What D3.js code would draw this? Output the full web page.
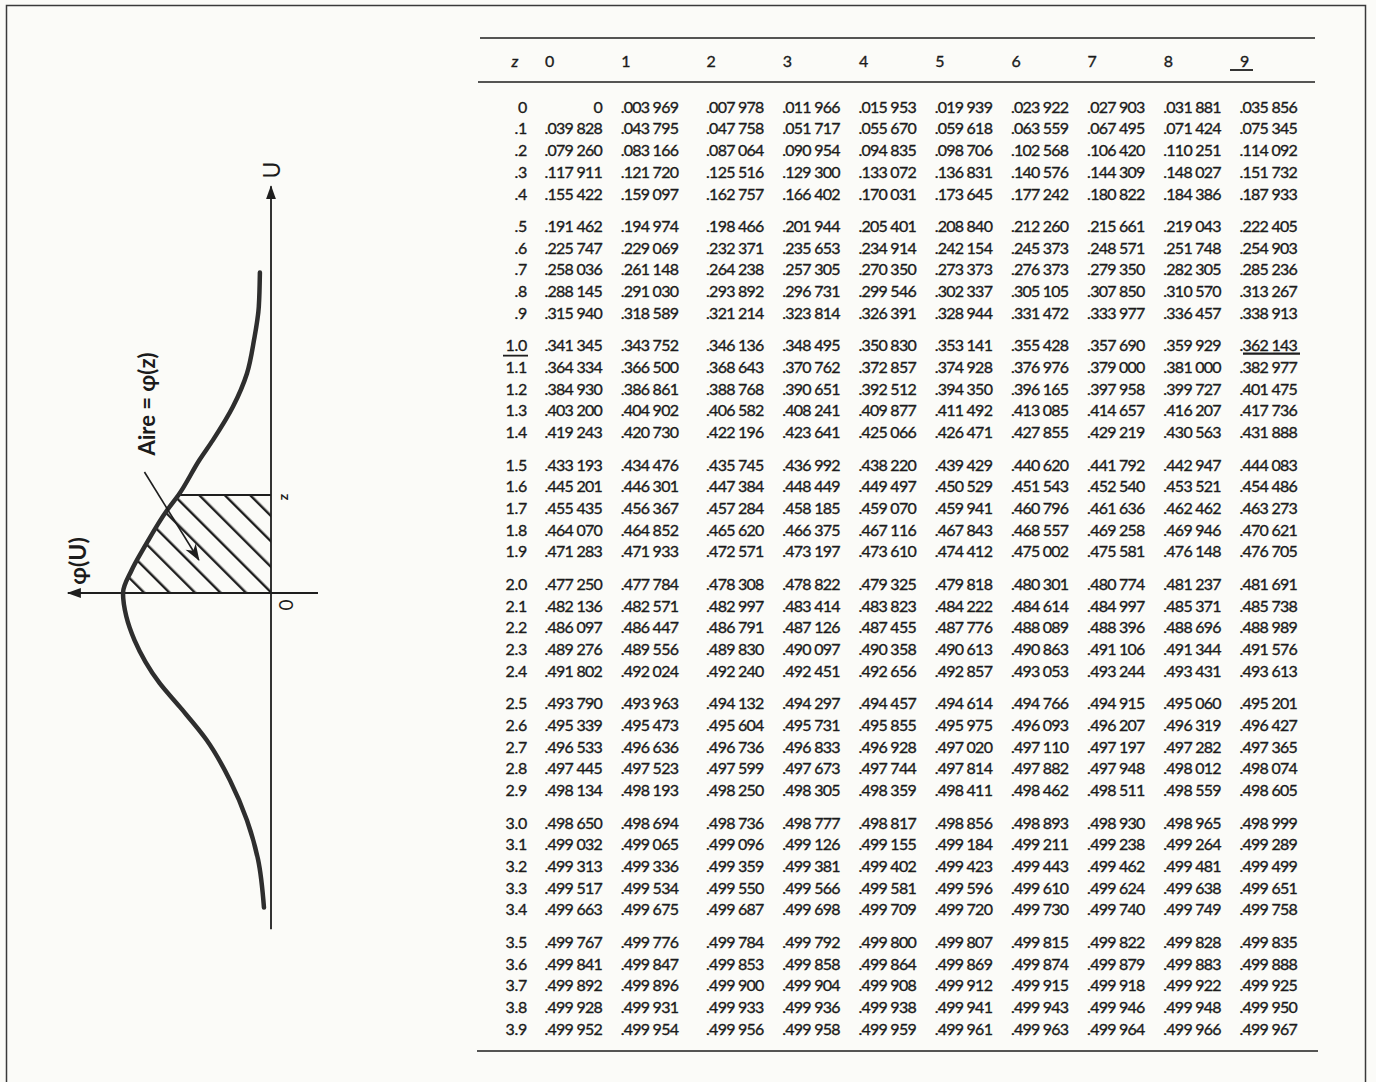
<!DOCTYPE html>
<html>
<head>
<meta charset="utf-8">
<title>Table de la loi normale</title>
<script src="https://cdn.jsdelivr.net/npm/d3@7"></script>
<style>
  body { margin:0; background:#fbfbf8; }
  svg text { font-family: Lato, "Open Sans", "DejaVu Sans", sans-serif; fill:#1b1b1b; }
</style>
</head>
<body>
<svg id="chart" width="1376" height="1082"></svg>
<script>
// z rows and the second decimal in columns
const zLabels=["0",".1",".2",".3",".4",".5",".6",".7",".8",".9",
  "1.0","1.1","1.2","1.3","1.4","1.5","1.6","1.7","1.8","1.9",
  "2.0","2.1","2.2","2.3","2.4","2.5","2.6","2.7","2.8","2.9",
  "3.0","3.1","3.2","3.3","3.4","3.5","3.6","3.7","3.8","3.9"]
const digitCols=["0","1","2","3","4","5","6","7","8","9"]

// area from 0 to z, one list per row (as printed, typos included)
const areas=[
  [0,.003969,.007978,.011966,.015953,.019939,.023922,.027903,.031881,.035856],
  [.039828,.043795,.047758,.051717,.055670,.059618,.063559,.067495,.071424,.075345],
  [.079260,.083166,.087064,.090954,.094835,.098706,.102568,.106420,.110251,.114092],
  [.117911,.121720,.125516,.129300,.133072,.136831,.140576,.144309,.148027,.151732],
  [.155422,.159097,.162757,.166402,.170031,.173645,.177242,.180822,.184386,.187933],
  [.191462,.194974,.198466,.201944,.205401,.208840,.212260,.215661,.219043,.222405],
  [.225747,.229069,.232371,.235653,.234914,.242154,.245373,.248571,.251748,.254903],
  [.258036,.261148,.264238,.257305,.270350,.273373,.276373,.279350,.282305,.285236],
  [.288145,.291030,.293892,.296731,.299546,.302337,.305105,.307850,.310570,.313267],
  [.315940,.318589,.321214,.323814,.326391,.328944,.331472,.333977,.336457,.338913],
  [.341345,.343752,.346136,.348495,.350830,.353141,.355428,.357690,.359929,.362143],
  [.364334,.366500,.368643,.370762,.372857,.374928,.376976,.379000,.381000,.382977],
  [.384930,.386861,.388768,.390651,.392512,.394350,.396165,.397958,.399727,.401475],
  [.403200,.404902,.406582,.408241,.409877,.411492,.413085,.414657,.416207,.417736],
  [.419243,.420730,.422196,.423641,.425066,.426471,.427855,.429219,.430563,.431888],
  [.433193,.434476,.435745,.436992,.438220,.439429,.440620,.441792,.442947,.444083],
  [.445201,.446301,.447384,.448449,.449497,.450529,.451543,.452540,.453521,.454486],
  [.455435,.456367,.457284,.458185,.459070,.459941,.460796,.461636,.462462,.463273],
  [.464070,.464852,.465620,.466375,.467116,.467843,.468557,.469258,.469946,.470621],
  [.471283,.471933,.472571,.473197,.473610,.474412,.475002,.475581,.476148,.476705],
  [.477250,.477784,.478308,.478822,.479325,.479818,.480301,.480774,.481237,.481691],
  [.482136,.482571,.482997,.483414,.483823,.484222,.484614,.484997,.485371,.485738],
  [.486097,.486447,.486791,.487126,.487455,.487776,.488089,.488396,.488696,.488989],
  [.489276,.489556,.489830,.490097,.490358,.490613,.490863,.491106,.491344,.491576],
  [.491802,.492024,.492240,.492451,.492656,.492857,.493053,.493244,.493431,.493613],
  [.493790,.493963,.494132,.494297,.494457,.494614,.494766,.494915,.495060,.495201],
  [.495339,.495473,.495604,.495731,.495855,.495975,.496093,.496207,.496319,.496427],
  [.496533,.496636,.496736,.496833,.496928,.497020,.497110,.497197,.497282,.497365],
  [.497445,.497523,.497599,.497673,.497744,.497814,.497882,.497948,.498012,.498074],
  [.498134,.498193,.498250,.498305,.498359,.498411,.498462,.498511,.498559,.498605],
  [.498650,.498694,.498736,.498777,.498817,.498856,.498893,.498930,.498965,.498999],
  [.499032,.499065,.499096,.499126,.499155,.499184,.499211,.499238,.499264,.499289],
  [.499313,.499336,.499359,.499381,.499402,.499423,.499443,.499462,.499481,.499499],
  [.499517,.499534,.499550,.499566,.499581,.499596,.499610,.499624,.499638,.499651],
  [.499663,.499675,.499687,.499698,.499709,.499720,.499730,.499740,.499749,.499758],
  [.499767,.499776,.499784,.499792,.499800,.499807,.499815,.499822,.499828,.499835],
  [.499841,.499847,.499853,.499858,.499864,.499869,.499874,.499879,.499883,.499888],
  [.499892,.499896,.499900,.499904,.499908,.499912,.499915,.499918,.499922,.499925],
  [.499928,.499931,.499933,.499936,.499938,.499941,.499943,.499946,.499948,.499950],
  [.499952,.499954,.499956,.499958,.499959,.499961,.499963,.499964,.499966,.499967]
]

// the sketch of the bell curve: U along, phi(U) across
const curveU=[3.27,2.92,2.58,2.24,1.90,1.56,1.36,1.00,0.85,0.47,0.23,0,-0.24,-0.48,-0.92,-1.16,-1.50,-1.91,-2.32,-2.72,-3.21]
const curvePhi=[.030,.033,.046,.065,.103,.157,.193,.250,.280,.342,.377,.400,.391,.369,.301,.247,.174,.111,.065,.035,.019]
const zMark=1.00

const ink='#1e1e1e'
const svg=d3.select('#chart')

// frame
svg.append('rect').attr('x',6.5).attr('y',5.5).attr('width',1359).attr('height',1110)
  .attr('fill','none').attr('stroke','#3a3a3a').attr('stroke-width',1.5)

// ---------- table ----------
const colX=d3.scaleLinear().domain([0,9.12]).range([602,1297])
const colPos=j=>colX(j+(j>=2?0.12:0))  // small extra gap after column 1
const rowY=d3.scaleLinear().domain([0,42.5]).range([107,1029])
const rowPos=i=>rowY(i+0.5*Math.floor(i/5)) // blocks of five rows
const fmt=v=>{
  if (v===0) return '0'
  const s=d3.format('.6f')(v).slice(1)
  return s.slice(0,4)+'\u2005'+s.slice(4)
}

const rule=(x1,x2,y,w)=>svg.append('line').attr('x1',x1).attr('x2',x2).attr('y1',y).attr('y2',y)
  .attr('stroke',ink).attr('stroke-width',w||1.6)
rule(480,1315,38)
rule(478,1315,82)
rule(477,1318,1051)

const table=svg.append('g').attr('font-size',16)
  .attr('stroke','#1b1b1b').attr('stroke-width',0.35)
const headY=61
table.append('text').attr('x',515).attr('y',headY).attr('dy','0.36em')
  .attr('text-anchor','middle').attr('font-style','italic').text('z')
table.selectAll('text.hd').data(digitCols).join('text').attr('class','hd')
  .attr('x',(d,j)=>colPos(j)-57).attr('y',headY).attr('dy','0.36em').text(d=>d)
rule(colPos(9)-67,colPos(9)-44,70,1.8)

table.selectAll('text.zl').data(zLabels).join('text').attr('class','zl')
  .attr('x',527).attr('y',(d,i)=>rowPos(i)).attr('dy','0.36em')
  .attr('text-anchor','end').attr('letter-spacing','-0.3').text(d=>d)

const rows=table.selectAll('g.row').data(areas).join('g').attr('class','row')
  .attr('transform',(d,i)=>`translate(0,${rowPos(i)})`)
rows.selectAll('text').data(d=>d).join('text')
  .attr('x',(d,j)=>colPos(j)).attr('dy','0.36em')
  .attr('text-anchor','end').attr('letter-spacing','-0.75').text(fmt)

// underlines at z = 1.0 and its last value
const r10=zLabels.indexOf('1.0')
rule(503,528,rowPos(r10)+10,1.8)
rule(colPos(9)-54,colPos(9)+3,rowPos(r10)+8,2.2)

// ---------- bell curve sketch ----------
const yU=d3.scaleLinear().domain([0,1]).range([593,495])
const xPhi=d3.scaleLinear().domain([0,0.4]).range([271,123])
const pts=curveU.map((u,i)=>({u:u,p:curvePhi[i]}))

const defs=svg.append('defs')
defs.append('marker').attr('id','arr').attr('viewBox','0 0 14 10')
  .attr('refX',13).attr('refY',5).attr('markerWidth',14).attr('markerHeight',10)
  .attr('markerUnits','userSpaceOnUse').attr('orient','auto')
  .append('path').attr('d','M0,0L14,5L0,10Z').attr('fill',ink)
defs.append('marker').attr('id','arrSmall').attr('viewBox','0 0 14 10')
  .attr('refX',13).attr('refY',5).attr('markerWidth',18).attr('markerHeight',12)
  .attr('markerUnits','userSpaceOnUse').attr('orient','auto')
  .append('path').attr('d','M0,0L14,5L0,10L4,5Z').attr('fill',ink)

const pat=defs.append('pattern').attr('id','hatch').attr('patternUnits','userSpaceOnUse')
  .attr('width',18).attr('height',18)
  .attr('patternTransform',`translate(${xPhi(0)-1},${yU(0)}) rotate(-45)`)
pat.append('rect').attr('x',0).attr('y',0).attr('width',2.4).attr('height',18).attr('fill',ink)

defs.append('clipPath').attr('id','band').append('rect')
  .attr('x',xPhi(0.45)).attr('y',yU(zMark)).attr('width',xPhi(0)-xPhi(0.45)).attr('height',yU(0)-yU(zMark))

const g=svg.append('g')
const curveType=d3.curveMonotoneY
g.append('path').datum(pts).attr('clip-path','url(#band)')
  .attr('d',d3.area().curve(curveType).y(d=>yU(d.u)).x0(xPhi(0)).x1(d=>xPhi(d.p)))
  .attr('fill','url(#hatch)')

// axes
g.append('line').attr('x1',xPhi(0)).attr('x2',xPhi(0)).attr('y1',yU(-3.43)).attr('y2',yU(4.15))
  .attr('stroke',ink).attr('stroke-width',1.8).attr('marker-end','url(#arr)')
g.append('line').attr('x1',xPhi(-0.127)).attr('x2',xPhi(0.549)).attr('y1',yU(0)).attr('y2',yU(0))
  .attr('stroke',ink).attr('stroke-width',1.8).attr('marker-end','url(#arr)')

// top of the hatched part
const km=curveU.indexOf(zMark)
g.append('line').attr('x1',xPhi(curvePhi[km])).attr('x2',xPhi(0)).attr('y1',yU(zMark)).attr('y2',yU(zMark))
  .attr('stroke',ink).attr('stroke-width',2)

g.append('path').datum(pts)
  .attr('d',d3.line().curve(curveType).x(d=>xPhi(d.p)).y(d=>yU(d.u)))
  .attr('fill','none').attr('stroke','#2e2e2e').attr('stroke-width',4.5).attr('stroke-linecap','round')

// pointer from the label into the area
g.append('line').attr('x1',xPhi(0.342)).attr('y1',yU(1.235)).attr('x2',xPhi(0.195)).attr('y2',yU(0.337))
  .attr('stroke',ink).attr('stroke-width',1.6).attr('marker-end','url(#arrSmall)')

const rotLabel=(x,y,txt,size,weight)=>g.append('text')
  .attr('transform',`translate(${x},${y}) rotate(-90)`)
  .attr('text-anchor','middle').attr('dy','0.36em')
  .attr('font-size',size).attr('font-weight',weight||'normal').text(txt)
rotLabel(272,170,'U',23)
rotLabel(147,404,'Aire = \u03c6(z)',22,'bold')
rotLabel(78,561,'\u03c6(U)',23,'bold')
rotLabel(283,497,'z',14,'bold')
rotLabel(286,605,'0',19)
</script>
</body>
</html>
